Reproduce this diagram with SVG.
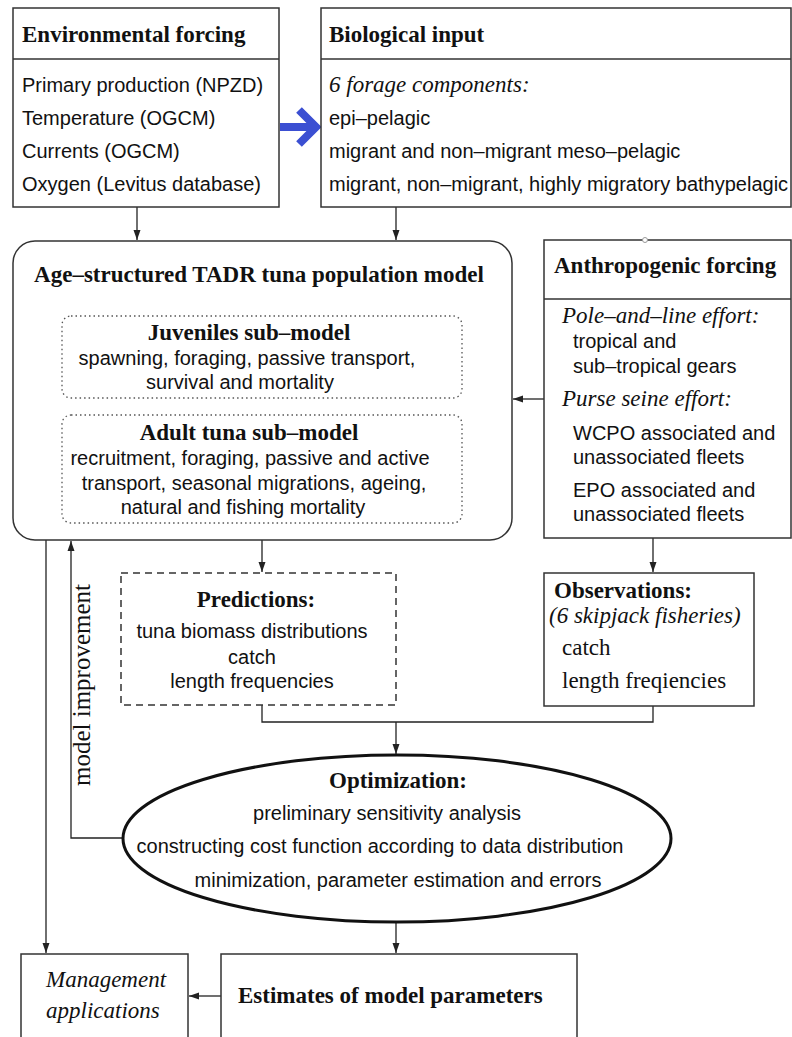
<svg xmlns="http://www.w3.org/2000/svg" width="792" height="1037" viewBox="0 0 792 1037">
<style>
.box{fill:#fff;stroke:#333;stroke-width:1.5}
.dot{fill:none;stroke:#555;stroke-width:1.3;stroke-dasharray:1.5 3}
.dash{fill:#fff;stroke:#333;stroke-width:1.5;stroke-dasharray:7 5}
.ln{fill:none;stroke:#222;stroke-width:1.3}
.tb{font-family:"Liberation Serif",serif;font-weight:bold;font-size:23px;fill:#111}
.ti{font-family:"Liberation Serif",serif;font-style:italic;font-size:23px;fill:#111}
.tr{font-family:"Liberation Serif",serif;font-size:23px;fill:#111}
.s{font-family:"Liberation Sans",Arial,sans-serif;font-size:20px;fill:#111}
.c{text-anchor:middle}
</style>
<defs>
<marker id="ah" viewBox="0 0 10 10" refX="10" refY="5" markerWidth="10" markerHeight="10" markerUnits="userSpaceOnUse" orient="auto">
<path d="M0,1.5 L10,5 L0,8.5 Z" fill="#222"/>
</marker>
<marker id="oh" viewBox="0 0 10 10" refX="9" refY="5" markerWidth="8" markerHeight="8" markerUnits="userSpaceOnUse" orient="auto">
<path d="M1,1.5 L9,5 L1,8.5" fill="none" stroke="#444" stroke-width="1.3"/>
</marker>
</defs>

<g id="connectors">
<path class="ln" d="M137,207 V240" marker-end="url(#ah)"/>
<path class="ln" d="M396,207 V240" marker-end="url(#ah)"/>
<path class="ln" d="M544,399 H513" marker-end="url(#ah)"/>
<path class="ln" d="M262,540 V572" marker-end="url(#ah)"/>
<path class="ln" d="M653,538 V572" marker-end="url(#ah)"/>
<path class="ln" d="M262,705 V722 H653 V706"/>
<path class="ln" d="M396,722 V754" marker-end="url(#ah)"/>
<path class="ln" d="M123,838 H71 V541" marker-end="url(#ah)"/>
<path class="ln" d="M46,540 V953" marker-end="url(#ah)"/>
<path class="ln" d="M396,922 V953" marker-end="url(#ah)"/>
<path class="ln" d="M221,996 H189" marker-end="url(#ah)"/>
<path class="dot" d="M62,473 H46 V357 H61" marker-end="url(#oh)"/>
<path class="dot" d="M462,357 H479 V473 H463" marker-end="url(#oh)"/>
<g id="blue-arrow" fill="none" stroke="#3b4fd2" stroke-width="8">
<path d="M280,127 H314"/>
<path d="M299,110 L316,127 L299,144" stroke-linejoin="miter"/>
</g>
<text class="tr c" transform="translate(90,685) rotate(-90)" style="font-size:25px">model improvement</text>
</g>

<g id="env">
<rect class="box" x="13" y="8" width="266" height="199"/>
<line class="box" x1="13" y1="59" x2="279" y2="59"/>
<text class="tb" x="22" y="42">Environmental forcing</text>
<text class="s" x="22" y="92">Primary production (NPZD)</text>
<text class="s" x="22" y="125">Temperature (OGCM)</text>
<text class="s" x="22" y="158">Currents (OGCM)</text>
<text class="s" x="22" y="191">Oxygen (Levitus database)</text>
</g>

<g id="bio">
<rect class="box" x="321" y="8" width="470" height="199"/>
<line class="box" x1="321" y1="59" x2="791" y2="59"/>
<text class="tb" x="329" y="42">Biological input</text>
<text class="ti" x="329" y="92">6 forage components:</text>
<text class="s" x="329" y="125">epi–pelagic</text>
<text class="s" x="329" y="158">migrant and non–migrant meso–pelagic</text>
<text class="s" x="329" y="191">migrant, non–migrant, highly migratory bathypelagic</text>
</g>

<g id="model">
<rect class="box" x="13" y="241" width="499" height="299" rx="22"/>
<text class="tb c" x="259" y="282">Age–structured TADR tuna population model</text>
</g>

<g id="juveniles">
<rect class="dot" x="62" y="316" width="400" height="82" rx="9"/>
<text class="tb c" x="249" y="340">Juveniles sub–model</text>
<text class="s c" x="247" y="365">spawning, foraging, passive transport,</text>
<text class="s c" x="240" y="389">survival and mortality</text>
</g>

<g id="adult">
<rect class="dot" x="62" y="415" width="400" height="108" rx="9"/>
<text class="tb c" x="249" y="440">Adult tuna sub–model</text>
<text class="s c" x="250" y="465">recruitment, foraging, passive and active</text>
<text class="s c" x="254" y="490">transport, seasonal migrations, ageing,</text>
<text class="s c" x="243" y="514">natural and fishing mortality</text>
</g>

<g id="anthro">
<rect class="box" x="544" y="240" width="247" height="298"/>
<line class="box" x1="544" y1="299" x2="791" y2="299"/>
<circle cx="645" cy="240" r="2.5" fill="#fff" stroke="#999" stroke-width="1"/>
<text class="tb" x="554" y="273">Anthropogenic forcing</text>
<text class="ti" x="562" y="323">Pole–and–line effort:</text>
<text class="s" x="573" y="348">tropical and</text>
<text class="s" x="573" y="373">sub–tropical gears</text>
<text class="ti" x="562" y="406">Purse seine effort:</text>
<text class="s" x="573" y="440">WCPO associated and</text>
<text class="s" x="573" y="464">unassociated fleets</text>
<text class="s" x="573" y="497">EPO associated and</text>
<text class="s" x="573" y="521">unassociated fleets</text>
</g>

<g id="predictions">
<rect class="dash" x="121" y="573" width="275" height="132"/>
<text class="tb c" x="256" y="607">Predictions:</text>
<text class="s c" x="252" y="638">tuna biomass distributions</text>
<text class="s c" x="252" y="664">catch</text>
<text class="s c" x="252" y="688">length frequencies</text>
</g>

<g id="observations">
<rect class="box" x="544" y="573" width="210" height="133"/>
<text class="tb" x="554" y="598">Observations:</text>
<text class="ti" x="549" y="623">(6 skipjack fisheries)</text>
<text class="tr" x="562" y="655">catch</text>
<text class="tr" x="562" y="688">length freqiencies</text>
</g>

<g id="optimization">
<ellipse cx="397" cy="838.5" rx="274" ry="83.5" fill="#fff" stroke="#111" stroke-width="3"/>
<text class="tb c" x="398" y="788">Optimization:</text>
<text class="s c" x="387" y="820">preliminary sensitivity analysis</text>
<text class="s c" x="380" y="853">constructing cost function according to data distribution</text>
<text class="s c" x="398" y="887">minimization, parameter estimation and errors</text>
</g>

<g id="management">
<rect class="box" x="21" y="954" width="167" height="95"/>
<text class="ti" x="46" y="987">Management</text>
<text class="ti" x="46" y="1018">applications</text>
</g>

<g id="estimates">
<rect class="box" x="221" y="954" width="356" height="95"/>
<text class="tb" x="238" y="1003">Estimates of model parameters</text>
</g>
</svg>
